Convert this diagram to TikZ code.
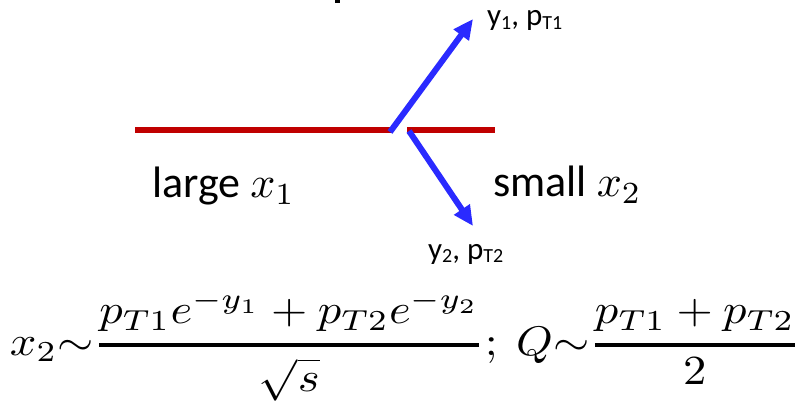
\documentclass[tikz,border=0pt]{standalone}
\usepackage{amsmath}
\usepackage{fontspec}
\usepackage{graphicx}
\setmainfont{Carlito}
\usetikzlibrary{arrows.meta}
\definecolor{pred}{RGB}{192,0,0}
\definecolor{pblue}{RGB}{42,42,255}
\newcommand\sbs[1]{\raisebox{-0.12em}{\fontsize{20}{21}\selectfont #1}}
\newcommand\bigmath[1]{\scalebox{4.4}{\normalsize$#1$}}
\begin{document}
\begin{tikzpicture}[x=1pt,y=-1pt,
  redline/.style={line width=6pt, draw=pred},
  bluearrow/.style={line width=6pt, draw=pblue, -{Triangle[length=20pt,width=18pt]}},
  lbl/.style={inner sep=0pt, anchor=base west},
  biglbl/.style={lbl, font=\fontsize{44}{50}\selectfont},
  smalllbl/.style={lbl, font=\fontsize{31}{36}\selectfont}]
\useasboundingbox (0,0) rectangle (802,403);
\fill[black] (335,0) rectangle (340,3);
% red line
\coordinate (ra) at (135,130);
\coordinate (rb) at (391,130);
\coordinate (rc) at (407,130);
\coordinate (rd) at (495,130);
\draw[redline] (ra) -- (rb);
\draw[redline] (rc) -- (rd);
% blue arrows
\coordinate (b1s) at (390,132);
\coordinate (b1e) at (473,19);
\coordinate (b2s) at (409,131);
\coordinate (b2e) at (473,226);
\draw[bluearrow] (b1s) -- (b1e);
\draw[bluearrow] (b2s) -- (b2e);
% labels
\node[smalllbl] (l1) at (487,26) {y\sbs{1}, p\sbs{T1}};
\node[smalllbl] (l2) at (428,259) {y\sbs{2}, p\sbs{T2}};
\node[biglbl] (lg) at (152,198) {large \bigmath{x_1}};
\node[biglbl] (sm) at (493,197) {small \bigmath{x_2}};
% formula
\node[inner sep=0pt] (f) at (405,346) {\resizebox*{790pt}{110pt}{\normalsize$\displaystyle x_2{\sim}\genfrac{}{}{0.9pt}{0}{p_{T1}e^{-y_1}+p_{T2}e^{-y_2}}{\sqrt{s}};\ Q{\sim}\genfrac{}{}{0.9pt}{0}{p_{T1}+p_{T2}}{2}$}};
\end{tikzpicture}
\end{document}
